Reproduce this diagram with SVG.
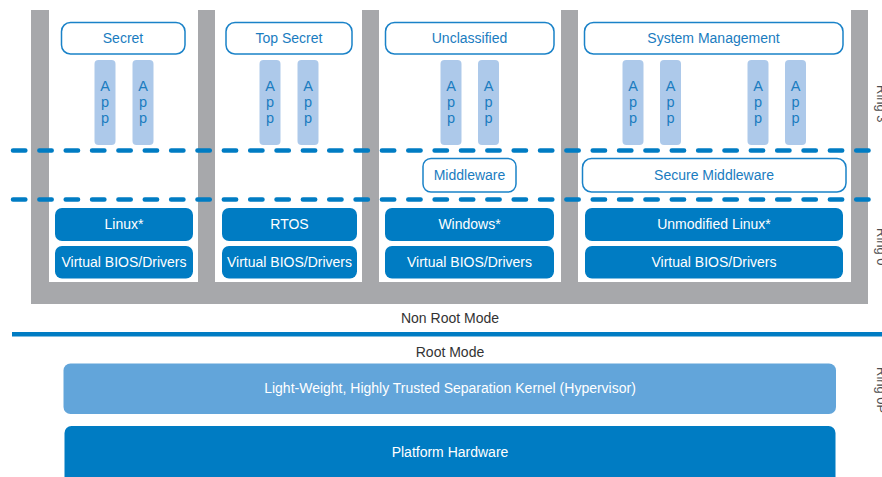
<svg xmlns="http://www.w3.org/2000/svg" width="882" height="477" viewBox="0 0 882 477">
<style>
text{font-family:"Liberation Sans",Arial,sans-serif;font-size:14px;text-anchor:middle}
.lbl{fill:#fff;stroke:#1a82c8;stroke-width:1.5}
.lt{fill:#1a7cc0}
.os{fill:#007cc3}
.wt{fill:#ffffff}
.app{fill:#adc9ea}
.at{fill:#1a7cc0;font-size:14.5px;writing-mode:vertical-rl;text-orientation:upright}
.dash{stroke:#007cc3;stroke-width:4.5;stroke-linecap:round;stroke-dasharray:12.35 14;fill:none}
.ring{fill:#4d4d4f;font-size:13px;text-anchor:start}
.mode{fill:#333333}
</style>
<rect width="882" height="477" fill="#ffffff"/>
<g id="frame">
<rect x="31" y="10" width="837" height="294" fill="#a7a8ab"/>
<rect x="49" y="10" width="149" height="272" fill="#ffffff"/>
<rect x="215" y="10" width="147" height="272" fill="#ffffff"/>
<rect x="379" y="10" width="182" height="272" fill="#ffffff"/>
<rect x="578" y="10" width="273" height="272" fill="#ffffff"/>
</g>
<g id="col-secret">
<rect class="lbl" x="61.5" y="22.5" width="123.5" height="31.5" rx="9"/>
<text class="lt" x="123" y="43">Secret</text>
<rect class="app" x="94.5" y="60" width="21" height="85" rx="4"/>
<text class="at" x="105" y="102">App</text>
<rect class="app" x="132.5" y="60" width="21" height="85" rx="4"/>
<text class="at" x="143" y="102">App</text>
<rect class="os" x="55" y="208" width="138" height="33" rx="7"/>
<text class="wt" x="124" y="229">Linux*</text>
<rect class="os" x="55" y="246" width="138" height="32.5" rx="7"/>
<text class="wt" x="124" y="267">Virtual BIOS/Drivers</text>
</g>
<g id="col-topsecret">
<rect class="lbl" x="226" y="22.5" width="126" height="31.5" rx="9"/>
<text class="lt" x="289" y="43">Top Secret</text>
<rect class="app" x="259.5" y="60" width="21" height="85" rx="4"/>
<text class="at" x="270" y="102">App</text>
<rect class="app" x="297.5" y="60" width="21" height="85" rx="4"/>
<text class="at" x="308" y="102">App</text>
<rect class="os" x="222" y="208" width="135" height="33" rx="7"/>
<text class="wt" x="289.5" y="229">RTOS</text>
<rect class="os" x="222" y="246" width="135" height="32.5" rx="7"/>
<text class="wt" x="289.5" y="267">Virtual BIOS/Drivers</text>
</g>
<g id="col-unclassified">
<rect class="lbl" x="385.5" y="22.5" width="168.5" height="31.5" rx="9"/>
<text class="lt" x="469.5" y="43">Unclassified</text>
<rect class="app" x="440.5" y="60" width="21" height="85" rx="4"/>
<text class="at" x="451" y="102">App</text>
<rect class="app" x="478" y="60" width="21" height="85" rx="4"/>
<text class="at" x="488.5" y="102">App</text>
<rect class="lbl" x="423" y="158.5" width="93" height="33.5" rx="8"/>
<text class="lt" x="469.5" y="180">Middleware</text>
<rect class="os" x="385" y="208" width="169" height="33" rx="7"/>
<text class="wt" x="469.5" y="229">Windows*</text>
<rect class="os" x="385" y="246" width="169" height="32.5" rx="7"/>
<text class="wt" x="469.5" y="267">Virtual BIOS/Drivers</text>
</g>
<g id="col-sysmgmt">
<rect class="lbl" x="584.5" y="22.5" width="258.5" height="31.5" rx="9"/>
<text class="lt" x="713.5" y="43">System Management</text>
<rect class="app" x="622.5" y="60" width="21" height="85" rx="4"/>
<text class="at" x="633" y="102">App</text>
<rect class="app" x="660" y="60" width="21" height="85" rx="4"/>
<text class="at" x="670.5" y="102">App</text>
<rect class="app" x="747.5" y="60" width="21" height="85" rx="4"/>
<text class="at" x="758" y="102">App</text>
<rect class="app" x="785" y="60" width="21" height="85" rx="4"/>
<text class="at" x="795.5" y="102">App</text>
<rect class="lbl" x="582.5" y="158.5" width="263.5" height="33.5" rx="9"/>
<text class="lt" x="714" y="180">Secure Middleware</text>
<rect class="os" x="585" y="208" width="258" height="33" rx="7"/>
<text class="wt" x="714" y="229">Unmodified Linux*</text>
<rect class="os" x="585" y="246" width="258" height="32.5" rx="7"/>
<text class="wt" x="714" y="267">Virtual BIOS/Drivers</text>
</g>
<g id="connectors">
<line class="dash" x1="13" y1="150.5" x2="882" y2="150.5"/>
<line class="dash" x1="13" y1="199.5" x2="882" y2="199.5"/>
</g>
<g id="mode-divider">
<rect x="12" y="332" width="870" height="4.5" fill="#007cc3"/>
<text class="mode" x="450" y="323">Non Root Mode</text>
<text class="mode" x="450" y="357">Root Mode</text>
</g>
<g id="hypervisor">
<rect x="63.5" y="363.5" width="772.5" height="50.5" rx="7" fill="#62a5da"/>
<text class="wt" x="450" y="393">Light-Weight, Highly Trusted Separation Kernel (Hypervisor)</text>
</g>
<g id="platform-hardware">
<rect x="64.5" y="426" width="771" height="60" rx="7" fill="#007cc3"/>
<text class="wt" x="450" y="457">Platform Hardware</text>
</g>
<g id="ring-labels">
<text class="ring" transform="translate(876.5,85) rotate(90)">Ring 3</text>
<text class="ring" transform="translate(876.5,228) rotate(90)">Ring 0</text>
<text class="ring" transform="translate(876.5,367) rotate(90)">Ring 0P</text>
</g>
</svg>
